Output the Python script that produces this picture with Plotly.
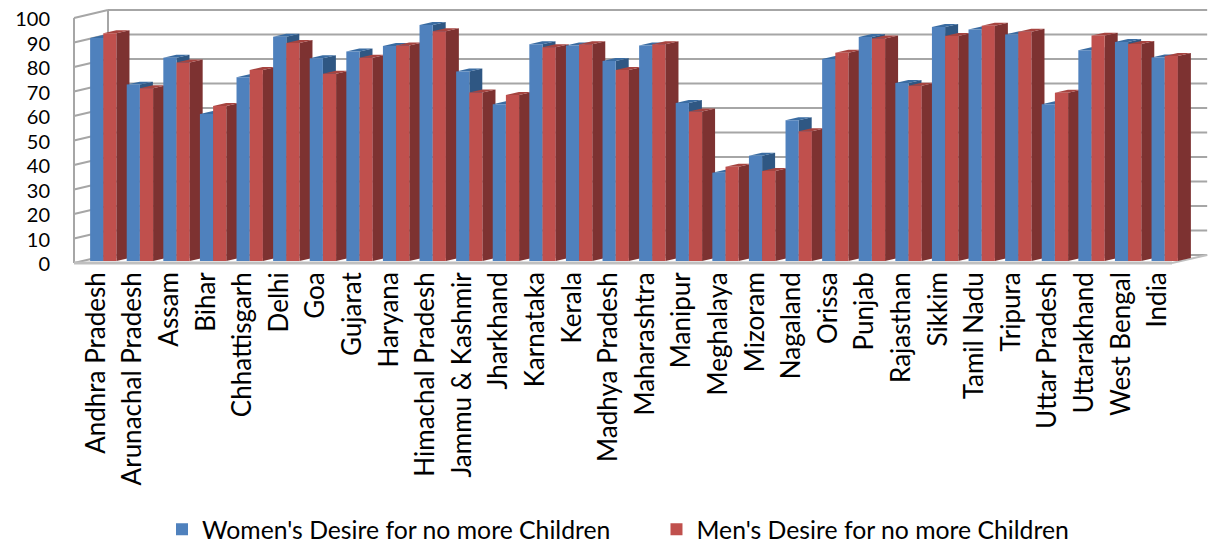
import plotly.graph_objects as go

# Share (%) wanting no more children, by state
states = ["Andhra Pradesh", "Arunachal Pradesh", "Assam", "Bihar", "Chhattisgarh", "Delhi", "Goa",
          "Gujarat", "Haryana", "Himachal Pradesh", "Jammu & Kashmir", "Jharkhand", "Karnataka",
          "Kerala", "Madhya Pradesh", "Maharashtra", "Manipur", "Meghalaya", "Mizoram", "Nagaland",
          "Orissa", "Punjab", "Rajasthan", "Sikkim", "Tamil Nadu", "Tripura", "Uttar Pradesh",
          "Uttarakhand", "West Bengal", "India"]
women = [91, 72, 83, 60, 75, 91.5, 82.8, 85.5, 87.8, 96.3, 77.4, 64, 88.5, 88, 81.6, 88, 64.5, 36,
         43, 57.5, 82.5, 91.4, 72.7, 95.5, 94.5, 92.5, 64, 86, 89.4, 83.1]
men = [93, 70.5, 81, 63.3, 78, 89, 76.4, 83, 88, 93.8, 68.8, 67.8, 87.3, 88.5, 78, 88.5, 61, 38.5,
       36.7, 53, 85, 90.8, 71.5, 91.8, 96, 93.6, 68.7, 92, 88.6, 83.7]
y_ticks = list(range(0, 101, 10))

BLUE, BLUE_TOP, BLUE_SIDE = "#4F81BD", "#3A6CA2", "#2F5783"
RED, RED_TOP, RED_SIDE = "#C0504D", "#A64440", "#7D3231"
WALL = "#A6A6A6"
FLOOR = "#BFBFBF"

# Oblique projection, in axis units: bar depth, plus front and back planes of the box
BAR_W = 0.36
DX, DY = 0.355, 1.22
FRONT_X, FRONT_Y = -0.8, -0.82
BACK_X, BACK_Y = 0.128, 2.45
RIGHT_BACK_X, RIGHT_FRONT_X = 30.16, 29.2
LABEL_SHIFT = 0.19


def poly(points, color):
    path = "M" + " L".join(f"{x:.3f},{y:.3f}" for x, y in points) + " Z"
    return dict(type="path", path=path, xref="x", yref="y", layer="between",
                fillcolor=color, line=dict(width=0))


def seg(x0, y0, x1, y1, color=WALL, width=2):
    return dict(type="line", x0=x0, y0=y0, x1=x1, y1=y1, xref="x", yref="y", layer="between",
                line=dict(color=color, width=width))


shapes = []
# Box: gridlines on the back and left walls, then the floor outline
for t in y_ticks:
    shapes.append(seg(BACK_X, t + BACK_Y, RIGHT_BACK_X, t + BACK_Y))
    shapes.append(seg(FRONT_X, t + FRONT_Y, BACK_X, t + BACK_Y))
shapes.append(seg(FRONT_X, FRONT_Y, FRONT_X, 100 + FRONT_Y))
shapes.append(seg(BACK_X, BACK_Y, BACK_X, 100 + BACK_Y))
shapes.append(seg(RIGHT_FRONT_X, FRONT_Y, RIGHT_BACK_X, BACK_Y, FLOOR, 2))
shapes.append(seg(FRONT_X, FRONT_Y, RIGHT_FRONT_X, FRONT_Y, FLOOR, 3))

# Side and top faces of every bar, from its value
for i, (w, m) in enumerate(zip(women, men)):
    for left, v, top, side in ((i - BAR_W, w, BLUE_TOP, BLUE_SIDE), (i, m, RED_TOP, RED_SIDE)):
        right = left + BAR_W
        shapes.append(poly([(right, 0), (right + DX, DY), (right + DX, v + DY), (right, v)], side))
        shapes.append(poly([(left, v), (left + DX, v + DY), (right + DX, v + DY), (right, v)], top))

x_pos = list(range(len(states)))
fig = go.Figure()
fig.add_bar(x=x_pos, y=women, name="Women's Desire for no more Children",
            marker_color=BLUE, marker_line_width=0, legend="legend")
fig.add_bar(x=x_pos, y=men, name="Men's Desire for no more Children",
            marker_color=RED, marker_line_width=0, legend="legend2")

legend_style = dict(orientation="h", xref="container", yref="container", xanchor="left",
                    y=0.028, yanchor="middle", font=dict(size=24.75), bgcolor="rgba(0,0,0,0)")

fig.update_layout(
    width=1209, height=545, autosize=False,
    margin=dict(l=60, r=0, t=5, b=279),
    paper_bgcolor="white", plot_bgcolor="white",
    barmode="group", bargap=0.28, bargroupgap=0,
    font=dict(family="Lato, Carlito, Calibri, sans-serif", color="black"),
    shapes=shapes,
    showlegend=True,
    legend=dict(x=0.134, **legend_style),
    legend2=dict(x=0.543, **legend_style),
    xaxis=dict(range=[-1.183, 30.21], tickmode="array",
               tickvals=[p - LABEL_SHIFT for p in x_pos], ticktext=states,
               tickangle=-90, tickfont=dict(size=26), ticks="", showgrid=False,
               zeroline=False, showline=False, automargin=False),
    yaxis=dict(range=[-2.04, 104.5], tickmode="array", tickvals=y_ticks,
               tickfont=dict(size=20), ticks="", showgrid=False, zeroline=False,
               showline=False, ticklabelshift=3, ticklabelstandoff=9, automargin=False),
)

fig.write_html("out.html")
